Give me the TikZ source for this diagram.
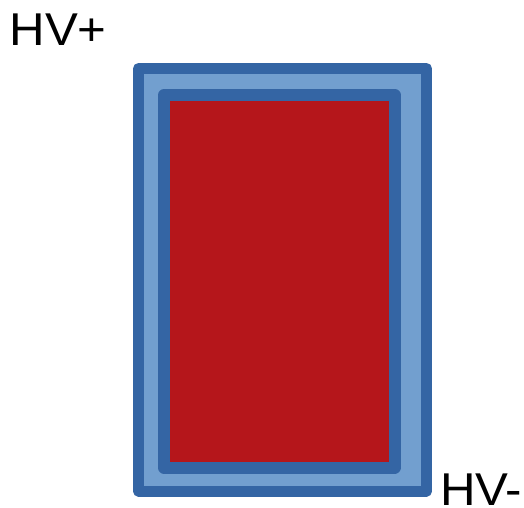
\documentclass[tikz,border=0pt]{standalone}
\usepackage{fontspec}
\usepackage{graphicx}
\setmainfont{Liberation Sans}
\definecolor{darkblue}{HTML}{3465A4}
\definecolor{lightblue}{HTML}{729FCF}
\definecolor{darkred}{HTML}{B5161B}
\newcommand{\widelbl}[1]{\scalebox{1.07}[1]{#1}}
\begin{document}
\begin{tikzpicture}[x=1pt,y=-1pt,
  frame/.style={draw=darkblue,line join=round},
  lbl/.style={font=\fontsize{46}{46}\selectfont,inner sep=0pt,anchor=base west}]
\useasboundingbox (0,0) rectangle (524,507);
\draw[frame,fill=lightblue,line width=11pt] (138.5,68.5) rectangle (426.5,491);
\draw[frame,fill=darkred,line width=12pt] (164,95) rectangle (394.5,467.5);
\node[lbl] (hvp) at (9.3,45.6) {\widelbl{HV+}};
\node[lbl] (hvm) at (440,505) {\widelbl{HV-}};
\end{tikzpicture}
\end{document}
